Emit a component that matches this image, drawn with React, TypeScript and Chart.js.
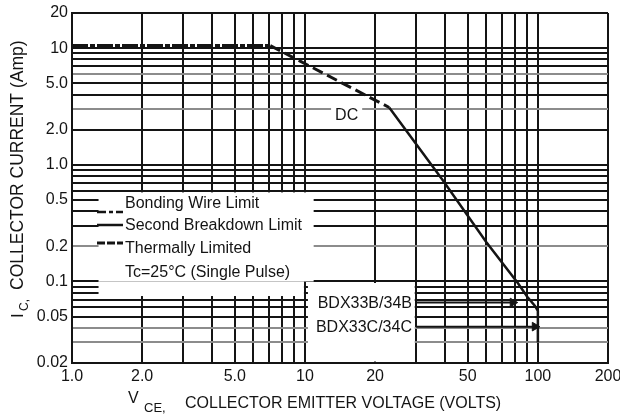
import React, { useEffect, useRef } from 'react';
import { Chart, registerables } from 'chart.js';

Chart.register(...registerables);

// ---- tick labels ----
const xTickValues = [1, 2, 5, 10, 20, 50, 100, 200];
const xTickLabels = ['1.0', '2.0', '5.0', '10', '20', '50', '100', '200'];
const yTickValues = [20, 10, 5, 2, 1, 0.5, 0.2, 0.1, 0.05, 0.02];
const yTickLabels = ['20', '10', '5.0', '2.0', '1.0', '0.5', '0.2', '0.1', '0.05', '0.02'];

// ---- safe operating area boundary (V, A) ----
const bondingV = [1, 7.1];
const bondingI = [10.5, 10.5];
const thermalV = [7.1, 23];
const thermalI = [10.5, 3.1];
const breakdownV = [23, 39, 60, 82, 90, 97, 100, 100];
const breakdownI = [3.1, 0.74, 0.218, 0.097, 0.074, 0.062, 0.056, 0.03];

// ---- device rating markers ----
const deviceLabels = ['BDX33B/34B', 'BDX33C/34C'];
const deviceV = [78, 97];
const deviceI = [0.066, 0.041];

const legendLabels = ['Bonding Wire Limit', 'Second Breakdown Limit', 'Thermally Limited', 'Tc=25°C (Single Pulse)'];
const dcLabel = 'DC';
const xTitleMain = 'COLLECTOR EMITTER VOLTAGE (VOLTS)';
const yTitleMain = 'COLLECTOR CURRENT (Amp)';
const grayGridI = [6, 3, 0.2, 0.04, 0.03];

const FONT = '"Liberation Sans", Arial, Helvetica, sans-serif';
const INK = '#141414';

function logGrid(min: number, max: number) {
  const out: number[] = [];
  for (let e = Math.floor(Math.log10(min)); e <= Math.ceil(Math.log10(max)); e++) {
    for (let s = 1; s <= 9; s++) {
      const v = Number((s * Math.pow(10, e)).toPrecision(6));
      if (v >= min * 0.999999 && v <= max * 1.000001) out.push(v);
    }
  }
  return out;
}
const same = (a: number, b: number) => Math.abs(a - b) <= Math.abs(b) * 1e-6;
const labelFor = (values: number[], labels: string[]) => (v: any) => {
  const i = values.findIndex((t) => same(Number(v), t));
  return i >= 0 ? labels[i] : '';
};
const pts = (xs: number[], ys: number[]) => xs.map((x, i) => ({ x, y: ys[i] }));

const decorations = {
  id: 'decorations',
  beforeDatasetsDraw(chart: any) {
    const { ctx, chartArea } = chart;
    const xs = chart.scales.x;
    const ys = chart.scales.y;
    const X = (v: number) => xs.getPixelForValue(v);
    const Y = (v: number) => ys.getPixelForValue(v);
    ctx.save();
    ctx.fillStyle = '#fff';
    const box = (v0: number, v1: number, i0: number, i1: number) =>
      ctx.fillRect(X(v0), Y(i0), X(v1) - X(v0), Y(i1) - Y(i0));
    box(1.3, 10.9, 0.58, 0.1);
    box(1.3, 9.9, 0.1, 0.075);
    ctx.fillRect(X(10.3), Y(0.097), X(29.6) - X(10.3), chartArea.bottom - 1.5 - Y(0.097));

    // legend
    ctx.font = `16px ${FONT}`;
    ctx.textAlign = 'left';
    ctx.textBaseline = 'alphabetic';
    const lx = chartArea.left + 53;
    const base = [195, 217, 240, 264].map((d) => chartArea.top + d);
    legendLabels.forEach((t, i) => {
      const w = ctx.measureText(t).width;
      ctx.fillStyle = '#fff';
      ctx.fillRect(lx - 1, base[i] - 13, w + 3, 17);
      ctx.fillStyle = INK;
      ctx.fillText(t, lx, base[i]);
    });
    // legend samples
    ctx.strokeStyle = INK;
    const sx0 = chartArea.left + 25;
    const sx1 = chartArea.left + 51;
    const sample = (dy: number, dash: number[], w: number) => {
      ctx.beginPath();
      ctx.setLineDash(dash);
      ctx.lineWidth = w;
      ctx.moveTo(sx0, chartArea.top + dy);
      ctx.lineTo(sx1, chartArea.top + dy);
      ctx.stroke();
    };
    sample(199, [9, 3, 4, 3], 2.5);
    sample(212, [], 2.5);
    sample(230, [8, 2], 3);
    ctx.setLineDash([]);

    // DC label
    ctx.font = `16px ${FONT}`;
    ctx.textAlign = 'center';
    ctx.textBaseline = 'middle';
    const dcx = X(15.1);
    const dcy = Y(2.67);
    const dw = ctx.measureText(dcLabel).width;
    ctx.fillStyle = '#fff';
    ctx.fillRect(dcx - dw / 2 - 4, dcy - 9, dw + 8, 18);
    ctx.fillStyle = INK;
    ctx.fillText(dcLabel, dcx, dcy + 1);

    // device labels
    ctx.textAlign = 'right';
    deviceLabels.forEach((t, i) => {
      ctx.fillText(t, X(28.8), Y(deviceI[i]) + 1);
    });
    ctx.restore();
  },
  afterDraw(chart: any) {
    const { ctx } = chart;
    ctx.save();
    ctx.fillStyle = INK;
    ctx.textAlign = 'left';
    ctx.textBaseline = 'alphabetic';
    // x title
    ctx.font = `16px ${FONT}`;
    ctx.fillText('V', 128, 403);
    ctx.font = `13px ${FONT}`;
    ctx.fillText('CE,', 144, 412);
    ctx.font = `16px ${FONT}`;
    ctx.fillText(xTitleMain, 185, 408);
    // y title
    ctx.translate(23, 322);
    ctx.rotate(-Math.PI / 2);
    ctx.font = `17px ${FONT}`;
    ctx.fillText('I', 4, 0);
    ctx.font = `12px ${FONT}`;
    ctx.fillText('C,', 11, 5);
    ctx.font = `17.5px ${FONT}`;
    ctx.fillText(yTitleMain, 32, 0);
    ctx.restore();
  },
};

export default function App() {
  const ref = useRef<HTMLCanvasElement>(null);
  useEffect(() => {
    const line = (data: any[], extra: any) => ({
      data,
      borderColor: INK,
      backgroundColor: INK,
      pointRadius: 0,
      fill: false,
      tension: 0,
      ...extra,
    });
    const chart = new Chart(ref.current as HTMLCanvasElement, {
      type: 'line',
      data: {
        datasets: [
          line(pts(bondingV, bondingI), { label: 'Bonding Wire Limit', borderWidth: 3.5, borderDash: [16, 2, 5, 2] }),
          line(pts(thermalV, thermalI), { label: 'Thermally Limited', borderWidth: 3, borderDash: [11, 5] }),
          line(pts(breakdownV, breakdownI), { label: 'Second Breakdown Limit', borderWidth: 2.5 }),
          ...deviceV.map((v, i) =>
            line([{ x: 30, y: deviceI[i] }, { x: v, y: deviceI[i] }], { label: deviceLabels[i], borderWidth: 2 })
          ),
          line(pts(deviceV, deviceI), {
            label: 'markers',
            showLine: false,
            pointStyle: 'triangle',
            rotation: 90,
            pointRadius: 5,
            borderWidth: 1,
          }),
        ],
      },
      options: {
        responsive: false,
        animation: false,
        layout: { padding: { top: 13, right: 12, left: 0, bottom: 0 } },
        plugins: { legend: { display: false }, tooltip: { enabled: false } },
        scales: {
          x: {
            type: 'logarithmic',
            min: 1,
            max: 200,
            afterBuildTicks: (s: any) => {
              s.ticks = logGrid(1, 200).map((value) => ({ value }));
            },
            afterFit: (s: any) => {
              s.height = 51;
              s.paddingLeft = 0;
              s.paddingRight = 0;
            },
            grid: { color: INK, lineWidth: 2, drawTicks: false },
            border: { color: INK, width: 2 },
            ticks: {
              autoSkip: false,
              maxRotation: 0,
              minRotation: 0,
              padding: 4,
              color: INK,
              font: { family: FONT, size: 16 },
              callback: labelFor(xTickValues, xTickLabels),
            },
          },
          y: {
            type: 'logarithmic',
            min: 0.02,
            max: 20,
            afterBuildTicks: (s: any) => {
              s.ticks = logGrid(0.02, 20).map((value) => ({ value }));
            },
            afterFit: (s: any) => {
              s.width = 72;
              s.paddingTop = 0;
              s.paddingBottom = 0;
            },
            grid: {
              color: (c: any) =>
                c.tick && grayGridI.some((g) => same(c.tick.value, g)) ? '#8c8c8c' : INK,
              lineWidth: 2,
              drawTicks: false,
            },
            border: { color: INK, width: 2 },
            ticks: {
              autoSkip: false,
              padding: 4,
              color: INK,
              font: { family: FONT, size: 16 },
              callback: labelFor(yTickValues, yTickLabels),
            },
          },
        },
      },
      plugins: [decorations],
    } as any);
    return () => chart.destroy();
  }, []);
  return (
    <div style={{ position: 'fixed', left: 0, top: 0, width: 620, height: 414, background: '#fff' }}>
      <canvas ref={ref} width={620} height={414} style={{ display: 'block', width: 620, height: 414 }} />
    </div>
  );
}
